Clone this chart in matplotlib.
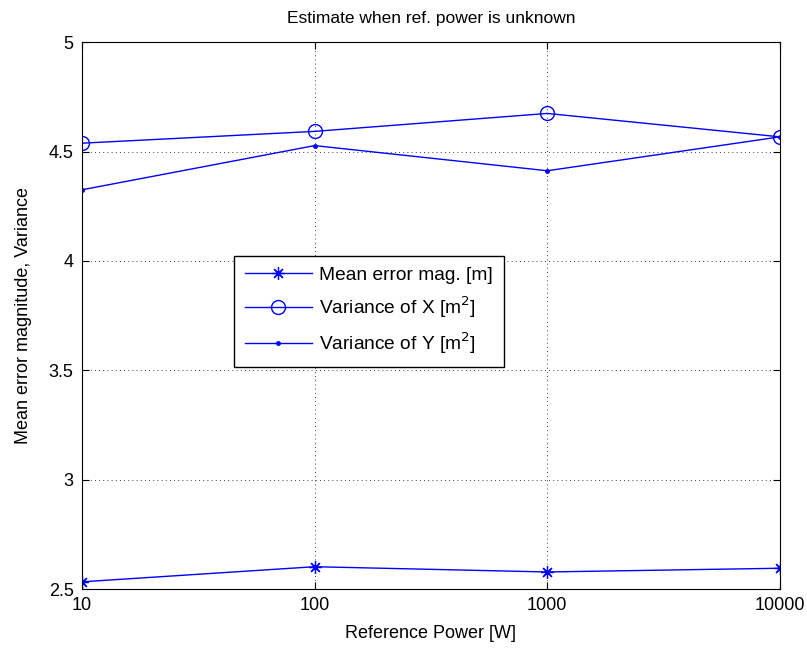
import matplotlib
matplotlib.use('Agg')
from matplotlib import pyplot as plt
from matplotlib.ticker import FixedLocator, NullLocator, FixedFormatter

plt.rcParams['font.family'] = ['Liberation Sans', 'DejaVu Sans']

# reference power levels [W]
power = [10, 100, 1000, 10000]
mean_err = [2.533, 2.602, 2.578, 2.595]
var_x = [4.538, 4.592, 4.674, 4.567]
var_y = [4.325, 4.527, 4.412, 4.567]

fig = plt.figure(figsize=(8.07, 6.48), dpi=100)
ax = fig.add_axes([0.1016, 0.091, 0.8649, 0.844])

# asterisk marker: 8 spokes
ax.plot(power, mean_err, color='b', ls='-', lw=1, marker=(8, 2, 0), ms=9, mew=0.9,
        label='Mean error mag. [m]')
ax.plot(power, var_x, color='b', ls='-', lw=1, marker='o', ms=10, mfc='none', mew=1,
        label='Variance of X [m$^2$]')
ax.plot(power, var_y, color='b', ls='-', lw=1, marker='.', ms=5,
        label='Variance of Y [m$^2$]')

ax.set_xscale('log')
ax.set_xlim(10, 10000)
ax.set_ylim(2.5, 5)
ax.xaxis.set_major_locator(FixedLocator(power))
ax.xaxis.set_major_formatter(FixedFormatter(['10', '100', '1000', '10000']))
ax.xaxis.set_minor_locator(NullLocator())
ax.set_yticks([2.5, 3, 3.5, 4, 4.5, 5])
ax.set_yticklabels(['2.5', '3', '3.5', '4', '4.5', '5'])
ax.tick_params(direction='in', top=True, right=True, labelsize=13, length=5, pad=6)

ax.grid(True, color='k', linestyle=(0, (1, 4)), linewidth=0.6)

ax.set_xlabel('Reference Power [W]', fontsize=13, labelpad=8)
ax.set_ylabel('Mean error magnitude, Variance', fontsize=13, labelpad=12)
ax.set_title('Estimate when ref. power is unknown', fontsize=12.5, pad=14)

leg = ax.legend(loc='upper left', bbox_to_anchor=(0.218, 0.609), borderaxespad=0,
                fontsize=13.8, fancybox=False, framealpha=1, edgecolor='k',
                borderpad=0.55, numpoints=1, handlelength=3.5, handletextpad=0.4,
                labelspacing=0.55)
leg.get_frame().set_linewidth(1)

fig.savefig('out.png')
